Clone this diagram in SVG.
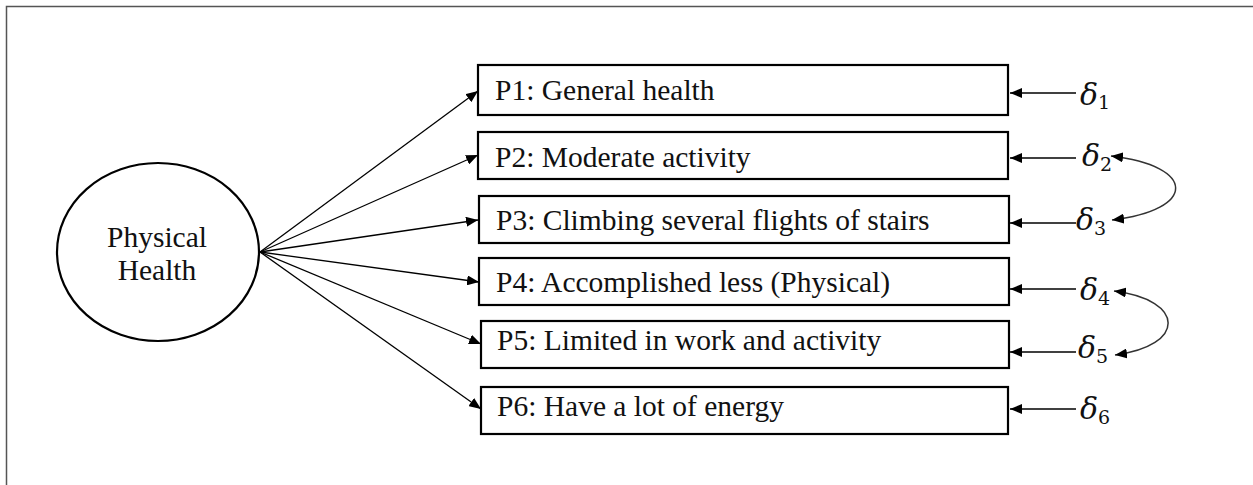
<svg xmlns="http://www.w3.org/2000/svg" width="1253" height="485" viewBox="0 0 1253 485">
  <style>
    .frame { fill: none; stroke: #555; stroke-width: 1.5; }
    .box { fill: #fff; stroke: #000; stroke-width: 2.2; }
    .latent { fill: #fff; stroke: #000; stroke-width: 2.2; }
    .label { font-family: "Liberation Serif", "Times New Roman", serif; font-size: 29.5px; fill: #111; }
    .err { font-family: "DejaVu Serif", "Liberation Serif", serif; font-style: italic; font-size: 30px; fill: #111; }
    .sub { font-family: "DejaVu Serif", "Liberation Serif", serif; font-style: normal; font-size: 19px; }
    .path { fill: none; stroke: #000; stroke-width: 1.3; marker-end: url(#tip); }
    .cov { fill: none; stroke: #333; stroke-width: 1.5; marker-start: url(#tip); marker-end: url(#tip); }
  </style>
  <defs>
    <marker id="tip" viewBox="0 0 12 10" markerWidth="12" markerHeight="10" refX="12" refY="5" orient="auto-start-reverse" markerUnits="userSpaceOnUse">
      <path d="M0,0 L12,5 L0,10 z" fill="#000"/>
    </marker>
  </defs>

  <!-- outer frame, open to the right and bottom -->
  <path class="frame" d="M6.5,490 V6.5 H1260"/>

  <!-- loadings and residual links -->
  <g id="connectors">
    <line class="path" x1="260" y1="252" x2="478" y2="91"/>
    <line class="path" x1="260" y1="252" x2="478" y2="155"/>
    <line class="path" x1="260" y1="252" x2="478" y2="220"/>
    <line class="path" x1="260" y1="252" x2="479" y2="282"/>
    <line class="path" x1="260" y1="252" x2="481" y2="344"/>
    <line class="path" x1="260" y1="252" x2="481" y2="409"/>

    <line class="path" x1="1076" y1="93" x2="1010" y2="93"/>
    <line class="path" x1="1076" y1="158" x2="1010" y2="158"/>
    <line class="path" x1="1076" y1="223" x2="1010" y2="223"/>
    <line class="path" x1="1076" y1="289" x2="1010" y2="289"/>
    <line class="path" x1="1076" y1="352" x2="1010" y2="352"/>
    <line class="path" x1="1076" y1="409" x2="1010" y2="409"/>

    <path class="cov" d="M1111,156 C1197,166 1197,210 1112,220"/>
    <path class="cov" d="M1114,291 C1186,300 1186,346 1115,355"/>
  </g>

  <g id="physical-health">
    <ellipse class="latent" cx="158" cy="252" rx="101" ry="89"/>
    <text class="label" x="157" y="247" text-anchor="middle">Physical</text>
    <text class="label" x="157" y="280" text-anchor="middle">Health</text>
  </g>

  <g id="p1">
    <rect class="box" x="478" y="65" width="530" height="50"/>
    <text class="label" x="495" y="100">P1: General health</text>
  </g>
  <g id="p2">
    <rect class="box" x="478" y="132" width="530" height="47"/>
    <text class="label" x="495" y="167">P2: Moderate activity</text>
  </g>
  <g id="p3">
    <rect class="box" x="479" y="196" width="530" height="47"/>
    <text class="label" x="496" y="230">P3: Climbing several flights of stairs</text>
  </g>
  <g id="p4">
    <rect class="box" x="479" y="258" width="530" height="47"/>
    <text class="label" x="496" y="292">P4: Accomplished less (Physical)</text>
  </g>
  <g id="p5">
    <rect class="box" x="481" y="321" width="528" height="47"/>
    <text class="label" x="497" y="350">P5: Limited in work and activity</text>
  </g>
  <g id="p6">
    <rect class="box" x="481" y="387" width="527" height="47"/>
    <text class="label" x="497" y="416">P6: Have a lot of energy</text>
  </g>

  <g id="d1"><text class="err" x="1080" y="105">δ<tspan class="sub" dy="4">1</tspan></text></g>
  <g id="d2"><text class="err" x="1082" y="166">δ<tspan class="sub" dy="5">2</tspan></text></g>
  <g id="d3"><text class="err" x="1076" y="230">δ<tspan class="sub" dy="5">3</tspan></text></g>
  <g id="d4"><text class="err" x="1080" y="300">δ<tspan class="sub" dy="5">4</tspan></text></g>
  <g id="d5"><text class="err" x="1078" y="358">δ<tspan class="sub" dy="5">5</tspan></text></g>
  <g id="d6"><text class="err" x="1080" y="419">δ<tspan class="sub" dy="5">6</tspan></text></g>
</svg>
